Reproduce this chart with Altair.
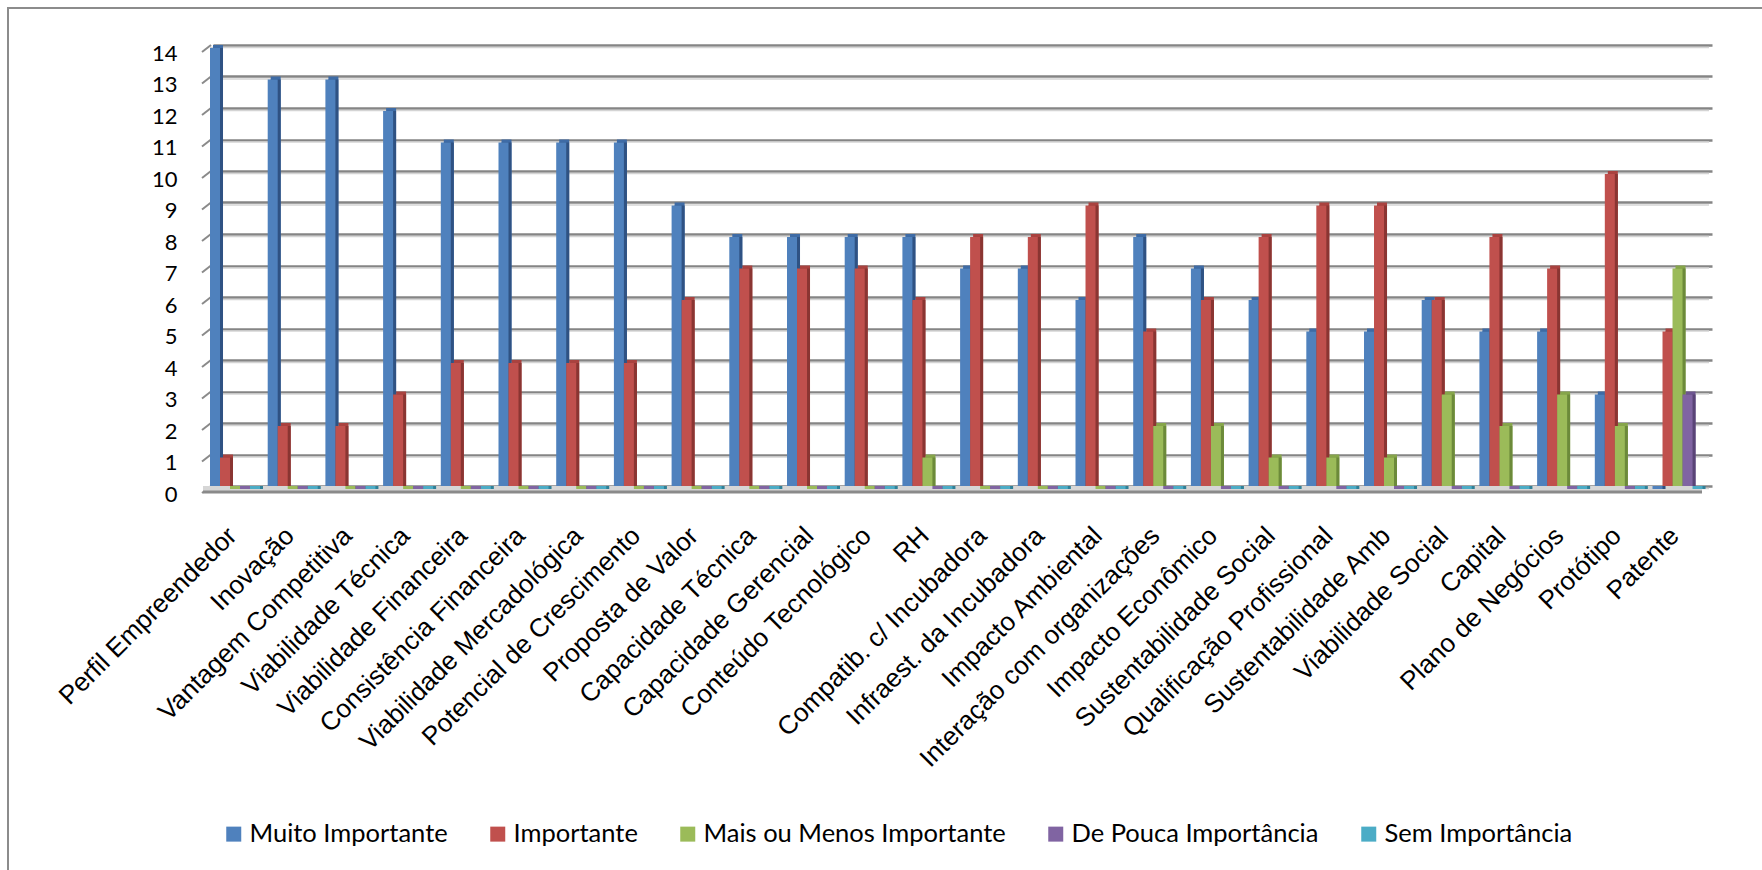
import altair as alt
import pandas as pd

categorias = [
    "Perfil Empreendedor", "Inovação", "Vantagem Competitiva", "Viabilidade Técnica",
    "Viabilidade Financeira", "Consistência Financeira", "Viabilidade Mercadológica",
    "Potencial de Crescimento", "Proposta de Valor", "Capacidade Técnica",
    "Capacidade Gerencial", "Conteúdo Tecnológico", "RH", "Compatib. c/ Incubadora",
    "Infraest. da Incubadora", "Impacto Ambiental", "Interação com organizações",
    "Impacto Econômico", "Sustentabilidade Social", "Qualificação Profissional",
    "Sustentabilidade Amb", "Viabilidade Social", "Capital", "Plano de Negócios",
    "Protótipo", "Patente",
]
series = ["Muito Importante", "Importante", "Mais ou Menos Importante",
          "De Pouca Importância", "Sem Importância"]

muito_importante = [14, 13, 13, 12, 11, 11, 11, 11, 9, 8, 8, 8, 8, 7, 7, 6, 8, 7, 6, 5, 5, 6, 5, 5, 3, 0]
importante = [1, 2, 2, 3, 4, 4, 4, 4, 6, 7, 7, 7, 6, 8, 8, 9, 5, 6, 8, 9, 9, 6, 8, 7, 10, 5]
mais_ou_menos = [0, 0, 0, 0, 0, 0, 0, 0, 0, 0, 0, 0, 1, 0, 0, 0, 2, 2, 1, 1, 1, 3, 2, 3, 2, 7]
de_pouca = [0, 0, 0, 0, 0, 0, 0, 0, 0, 0, 0, 0, 0, 0, 0, 0, 0, 0, 0, 0, 0, 0, 0, 0, 0, 3]
sem_importancia = [0, 0, 0, 0, 0, 0, 0, 0, 0, 0, 0, 0, 0, 0, 0, 0, 0, 0, 0, 0, 0, 0, 0, 0, 0, 0]

y_ticks = [0, 1, 2, 3, 4, 5, 6, 7, 8, 9, 10, 11, 12, 13, 14]

cores = ["#4F81BD", "#C0504D", "#9BBB59", "#8064A2", "#4BACC6"]
cores_lado = ["#2F5283", "#8A3532", "#6C8A3A", "#5A4477", "#2F8098"]
cores_topo = ["#3E6BA5", "#A9423F", "#86A54A", "#6D5590", "#3D9AB2"]

valores = [muito_importante, importante, mais_ou_menos, de_pouca, sem_importancia]
rows = []
for s, vals in zip(series, valores):
    for c, v in zip(categorias, vals):
        rows.append({"categoria": c, "serie": s, "valor": v})
df = pd.DataFrame(rows)
ticks_df = pd.DataFrame({"t": y_ticks})
one = pd.DataFrame({"a": [0]})

W, H = 1499, 441
PL, PT = 210, 45
D = 3  # depth of the 3D effect in pixels

band = dict(paddingInner=0.133, paddingOuter=0.056, align=0)
y_scale = alt.Scale(domain=[0, 14], nice=False)
off_scale = alt.Scale(paddingInner=0, paddingOuter=0)

y_axis = alt.Axis(values=y_ticks, grid=True, gridColor="#858585", gridWidth=2.5,
                  domain=False, ticks=False, labelFont="Lato", labelFontSize=22,
                  labelColor="#000000", labelPadding=33, labelOffset=8, title=None)

base = alt.Chart(df)

# top faces (shifted right, lying just above the front face)
topo = base.mark_bar(yOffset=0, y2Offset=D).encode(
    x=alt.X("categoria:N", sort=categorias, axis=None,
            scale=alt.Scale(range=[D, W + D], **band)),
    xOffset=alt.XOffset("serie:N", sort=series, scale=off_scale),
    y=alt.Y("valor:Q", stack=None, scale=y_scale, axis=y_axis, title=None),
    color=alt.Color("serie:N", sort=series, legend=None,
                    scale=alt.Scale(domain=series, range=cores_topo)),
)

# side faces (shifted right)
lado = base.mark_bar(yOffset=D, y2Offset=D).encode(
    x=alt.X("categoria:N", sort=categorias, axis=None,
            scale=alt.Scale(range=[D, W + D], **band)),
    xOffset=alt.XOffset("serie:N", sort=series, scale=off_scale),
    y=alt.Y("valor:Q", stack=None, scale=y_scale, axis=y_axis, title=None),
    color=alt.Color("serie:N", sort=series, legend=None,
                    scale=alt.Scale(domain=series, range=cores_lado)),
)

# front faces
frente = base.mark_bar(yOffset=D, y2Offset=D + 1).encode(
    x=alt.X("categoria:N", sort=categorias, title=None,
            scale=alt.Scale(**band),
            axis=alt.Axis(labelAngle=-45, labelAlign="right", labelBaseline="alphabetic",
                          labelFont="Liberation Sans", labelFontSize=26,
                          labelColor="#000000", labelPadding=51, labelOffset=3,
                          labelLimit=0, domain=False, ticks=False, grid=False)),
    xOffset=alt.XOffset("serie:N", sort=series, scale=off_scale),
    y=alt.Y("valor:Q", stack=None, scale=y_scale, axis=y_axis, title=None),
    color=alt.Color("serie:N", sort=series,
                    scale=alt.Scale(domain=series, range=cores),
                    legend=alt.Legend(title=None, orient="none", direction="horizontal",
                                      legendX=11, legendY=776, symbolType="square",
                                      symbolSize=225, symbolStrokeWidth=0,
                                      labelFont="Lato", labelFontSize=25.5,
                                      labelColor="#000000", labelOffset=3,
                                      columnPadding=37, labelLimit=0, padding=0)),
)

# light shadow under gridlines
sombra = alt.Chart(ticks_df).mark_rule(color="#D4D4D4", strokeWidth=1.5, yOffset=2.5).encode(
    y=alt.Y("t:Q", scale=y_scale, axis=y_axis, title=None),
    x=alt.value(0), x2=alt.value(W),
)

# diagonal ticks on the left of the back wall
diag = alt.Chart(ticks_df).mark_rule(color="#8A8A8A", strokeWidth=2, yOffset=7).encode(
    y=alt.Y("t:Q", scale=y_scale, axis=y_axis, title=None),
    y2=alt.Y2("t:Q"),
    x=alt.value(-8), x2=alt.value(1),
)

# floor
piso = alt.Chart(one).mark_rect(color="#D6D6D6").encode(
    x=alt.value(-7), x2=alt.value(W - 7), y=alt.value(H), y2=alt.value(H + 6),
)
piso_borda = alt.Chart(one).mark_rule(color="#8A8A8A", strokeWidth=3).encode(
    x=alt.value(-7), x2=alt.value(W - 7), y=alt.value(H + 6),
)

# chart border
borda = alt.Chart(one).mark_rect(fillOpacity=0, stroke="#8C8C8C", strokeWidth=2).encode(
    x=alt.value(8 - PL), x2=alt.value(1780 - PL), y=alt.value(8 - PT), y2=alt.value(890 - PT),
)

chart = alt.layer(borda, sombra, diag, piso, piso_borda, topo, lado, frente).resolve_scale(
    x="independent", xOffset="independent", color="independent"
).properties(
    width=W, height=H,
    padding={"left": PL, "top": PT, "right": 1762 - PL - W, "bottom": 870 - PT - H},
    autosize=alt.AutoSizeParams(type="none"),
    background="#FFFFFF",
).configure_view(stroke=None)

chart.save("out.html", embed_options={"renderer": "svg", "actions": False})
